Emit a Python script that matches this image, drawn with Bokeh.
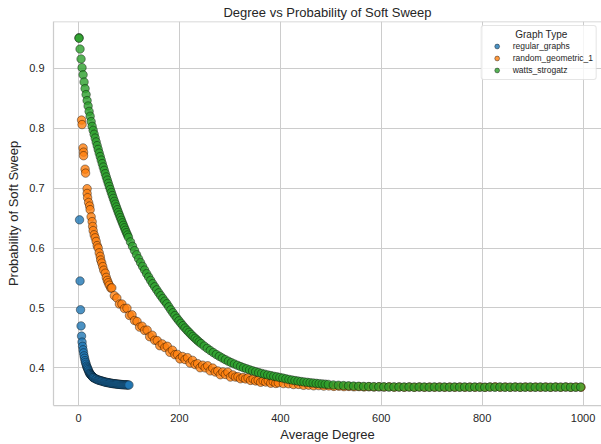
from bokeh.plotting import figure
from bokeh.models import Range1d, Legend, LegendItem, Span, FixedTicker
from bokeh.embed import file_html
from bokeh.resources import INLINE

# ---------------- data ----------------
graph_types = ["regular_graphs", "random_geometric_1", "watts_strogatz"]
colors = ["#1f77b4", "#ff7f0e", "#2ca02c"]

x_ticks = [0, 200, 400, 600, 800, 1000]
y_ticks = [0.4, 0.5, 0.6, 0.7, 0.8, 0.9]

regular_x = [2, 3, 4, 5, 6, 7, 8, 9, 10, 11, 12, 13, 14, 15, 16, 17, 18, 19, 20,
             21, 22, 23, 24, 25, 26, 27, 28, 29, 30,
             32, 34, 36, 38, 40, 42, 44, 46, 48, 50, 52, 54, 56, 58, 60,
             62, 64, 66, 68, 70, 72, 74, 76, 78, 80, 82, 84, 86, 88, 90,
             92, 94, 96, 98, 100]
regular_y = [0.647, 0.545, 0.497, 0.470, 0.453, 0.443, 0.436, 0.430, 0.425, 0.420,
             0.416, 0.412, 0.409, 0.406, 0.403, 0.401, 0.399, 0.397, 0.395,
             0.393, 0.391, 0.390, 0.389, 0.388, 0.387, 0.386, 0.385, 0.384, 0.3835,
             0.3825, 0.3815, 0.381, 0.380, 0.3795, 0.379, 0.3785, 0.378, 0.3775, 0.377,
             0.3765, 0.376, 0.3757, 0.3754, 0.375, 0.3747, 0.3744, 0.3741, 0.3738, 0.3736,
             0.3734, 0.3732, 0.373, 0.3728, 0.3726, 0.3724, 0.3722, 0.3721, 0.372, 0.3719,
             0.3718, 0.3717, 0.3716, 0.3715, 0.3714]

geometric_x = [6, 7, 9, 10, 10, 13, 14, 17, 17, 18, 20, 22, 23, 25, 27, 28, 29, 31,
               33, 35, 37, 39, 41, 43, 44, 46, 48, 50, 53, 55, 57, 59, 61, 64,
               66, 71, 76, 81, 86, 91, 96, 101, 106, 111, 116, 121, 126, 131, 136,
               141, 146, 151, 156, 161, 166, 171, 176, 181, 186, 191, 196, 201, 206,
               211, 216, 221, 226, 231, 236, 241, 246, 251, 256, 261, 266, 271, 276,
               281, 286, 291, 296, 301, 306, 311, 316, 321, 326, 331, 336, 341, 346,
               351, 356, 361, 366, 371, 376, 381, 386, 391, 396,
               406, 416, 426, 436, 446, 456, 466, 476, 486, 496, 506, 516, 526, 536,
               546, 556, 566, 576, 586, 596, 606, 616, 626, 636, 646, 656, 666, 676,
               686, 696, 706, 716, 726, 736, 746, 756, 766, 776, 786, 796, 806, 816,
               826, 836, 846, 856, 866, 876, 886, 896, 906, 916, 926, 936, 946, 956,
               966, 976, 986, 996]
geometric_y = [0.8135, 0.806, 0.767, 0.760, 0.754, 0.7315, 0.725, 0.699, 0.691, 0.684,
               0.676, 0.670, 0.664, 0.652, 0.644, 0.636, 0.629, 0.622, 0.617, 0.611,
               0.604, 0.600, 0.592, 0.586, 0.580, 0.575, 0.569, 0.563, 0.558, 0.551,
               0.546, 0.542, 0.538, 0.533,
               0.5335, 0.5205, 0.5165, 0.5065, 0.5065, 0.499, 0.4995, 0.4875, 0.4885,
               0.479, 0.4775, 0.468, 0.4695, 0.4625, 0.463, 0.452, 0.4545, 0.446,
               0.4455, 0.437, 0.440, 0.434, 0.436, 0.426, 0.4295, 0.422, 0.4225, 0.415,
               0.419, 0.414, 0.417, 0.408, 0.4125, 0.4055, 0.407, 0.4002, 0.4045, 0.400,
               0.4035, 0.395, 0.3996, 0.3932, 0.3948, 0.3885, 0.3932, 0.389, 0.3928,
               0.3847, 0.3882, 0.3847, 0.3852, 0.3818, 0.3839, 0.3816, 0.3833, 0.3791,
               0.3814, 0.3782, 0.3791, 0.376, 0.3784, 0.3764, 0.3784, 0.3744, 0.3769,
               0.374, 0.3751,
               0.3738, 0.3735, 0.3722, 0.3724, 0.3709, 0.3712, 0.3701, 0.3704, 0.3696,
               0.3699, 0.3691, 0.3694, 0.3687, 0.369, 0.3684, 0.3687, 0.3682, 0.3685,
               0.368, 0.3684, 0.3679, 0.3683, 0.3678, 0.3682, 0.3677, 0.3681, 0.3677,
               0.3681, 0.3676, 0.368, 0.3677, 0.3681, 0.3676, 0.368, 0.3677, 0.3681,
               0.3676, 0.368, 0.3677, 0.3681, 0.3676, 0.368, 0.3683, 0.3677, 0.3681,
               0.3676, 0.368, 0.3677, 0.3681, 0.3676, 0.368, 0.3677, 0.3681, 0.3676,
               0.368, 0.3677, 0.3681, 0.3676, 0.368, 0.3677]

watts_x = [1, 1, 3, 5, 7, 9, 11, 13, 15, 17, 19, 21, 23, 25, 27,
           29, 31, 33, 35, 37, 39, 41, 43, 45, 47, 49, 51, 53, 55, 57, 59, 61, 63,
           65, 67, 69, 71, 73, 75, 77, 79, 81, 83, 85, 87, 89, 91, 93, 95, 97, 99,
           103, 107, 111, 115, 119, 123, 127, 131, 135, 139, 143, 147, 151, 155,
           159, 163, 167, 171, 175,
           179, 183, 187, 191, 195, 199, 203, 207, 211, 215, 219, 223, 227, 231,
           235, 239, 243,
           249, 255, 261, 267, 273, 279, 285, 291, 297, 303, 309, 315, 321, 327,
           333, 339, 345, 351, 357, 363, 369, 375, 381, 387, 393, 399, 405, 411,
           417, 423, 429, 435, 441, 447, 453, 459, 465, 471, 477, 483, 489, 495,
           505, 515, 525, 535, 545, 555, 565, 575, 585, 595, 605, 615, 625, 635,
           645, 655, 665, 675, 685, 695, 705, 715, 725, 735, 745, 755, 765, 775,
           785, 795, 805, 815, 825, 835, 845, 855, 865, 875, 885, 895, 905, 915,
           925, 935, 945, 955, 965, 975, 985, 995]
watts_y = [0.951, 0.950, 0.932, 0.9155, 0.901, 0.889, 0.877, 0.866, 0.856, 0.846,
           0.837, 0.828, 0.820, 0.811, 0.803,
           0.7964, 0.7898, 0.7834, 0.777, 0.7708, 0.7646, 0.7585, 0.7526, 0.7467,
           0.7409, 0.7352, 0.7296, 0.7241, 0.7186, 0.7133, 0.708, 0.7028, 0.6977,
           0.6926, 0.6876, 0.6828, 0.6779, 0.6732, 0.6685, 0.6639, 0.6594, 0.655,
           0.6506, 0.6463, 0.642, 0.6378, 0.6337, 0.6296, 0.6256, 0.6217, 0.6178,
           0.6102, 0.6028, 0.5957, 0.5888, 0.5821, 0.5756, 0.5693, 0.5632, 0.5572,
           0.5515, 0.5459, 0.5405, 0.5353, 0.5302, 0.5252, 0.5205, 0.5158, 0.5113,
           0.507,
           0.5018, 0.4968, 0.492, 0.4873, 0.4828, 0.4785, 0.4744, 0.4704, 0.4665,
           0.4628, 0.4593, 0.4558, 0.4525, 0.4493, 0.4463, 0.4433, 0.4405,
           0.4364, 0.4326, 0.429, 0.4256, 0.4223, 0.4193, 0.4164, 0.4137, 0.4111,
           0.4087, 0.4064, 0.4043, 0.4022, 0.4003, 0.3985, 0.3967, 0.3951, 0.3936,
           0.3921, 0.3908, 0.3895, 0.3882, 0.3871, 0.386, 0.385, 0.384, 0.3829,
           0.3817, 0.3807, 0.3797, 0.3788, 0.378, 0.3772, 0.3765, 0.3759, 0.3753,
           0.3747, 0.3742, 0.3737, 0.3732, 0.3728, 0.3724,
           0.3715, 0.371, 0.3705, 0.370, 0.3696, 0.3693, 0.369, 0.3688, 0.3686,
           0.3684, 0.3683, 0.3681, 0.3682, 0.368, 0.3679, 0.3681, 0.3678, 0.368,
           0.3679, 0.3677, 0.368, 0.3678, 0.3679, 0.3677, 0.3679, 0.3678, 0.368,
           0.3677, 0.3679, 0.3678, 0.3676, 0.3679, 0.3678, 0.368, 0.3677, 0.3678,
           0.3679, 0.3677, 0.3678, 0.368, 0.3677, 0.3679, 0.3678, 0.3677, 0.3679,
           0.3678, 0.368, 0.3677, 0.3678, 0.3679]

series = [(regular_x, regular_y), (geometric_x, geometric_y), (watts_x, watts_y)]

# ---------------- figure ----------------
FONT = "Liberation Sans"
TXT = "#262626"
GRID = "#cccccc"

X_START, X_END = -49.6, 1036.5
Y_START, Y_END = 0.3372, 0.978

p = figure(width=601, height=444, output_backend="svg", toolbar_location=None,
           x_range=Range1d(X_START, X_END), y_range=Range1d(Y_START, Y_END),
           min_border_left=53, min_border_right=0, min_border_bottom=36,
           min_border_top=0)
p.background_fill_color = "white"
p.border_fill_color = "white"
p.outline_line_color = None

p.title.text = "Degree vs Probability of Soft Sweep"
p.title.align = "center"
p.title.text_font = FONT
p.title.text_font_size = "13px"
p.title.text_font_style = "normal"
p.title.text_color = TXT
p.title.standoff = 4

for ax, ticks in ((p.xaxis[0], x_ticks), (p.yaxis[0], y_ticks)):
    ax.ticker = FixedTicker(ticks=ticks)
    ax.axis_line_color = GRID
    ax.axis_line_width = 1.25
    ax.major_tick_line_color = None
    ax.minor_tick_line_color = None
    ax.major_tick_out = 0
    ax.major_tick_in = 0
    ax.major_label_text_font = FONT
    ax.major_label_text_font_size = "11px"
    ax.major_label_text_color = TXT
    ax.axis_label_text_font = FONT
    ax.axis_label_text_font_size = "13px"
    ax.axis_label_text_font_style = "normal"
    ax.axis_label_text_color = TXT

p.xaxis.axis_label = "Average Degree"
p.yaxis.axis_label = "Probability of Soft Sweep"
p.xaxis.major_label_standoff = 8
p.xaxis.axis_label_standoff = 2
p.yaxis.major_label_standoff = 9
p.yaxis.axis_label_standoff = 5

p.grid.grid_line_color = GRID
p.grid.grid_line_width = 1
p.xgrid.ticker = FixedTicker(ticks=x_ticks)
p.ygrid.ticker = FixedTicker(ticks=y_ticks)

# top spine
p.add_layout(Span(location=Y_END, dimension="width", line_color=GRID, line_width=1.25))

items = []
for name, col, (xs, ys) in zip(graph_types, colors, series):
    r = p.scatter(xs, ys, size=8.5, fill_color=col, line_color="black",
                  line_width=0.5, alpha=0.8)
    items.append(LegendItem(label=name, renderers=[r]))

legend = Legend(items=items, location="top_right")
legend.title = "\u00a0" * 11 + "Graph Type"
legend.title_text_font = FONT
legend.title_text_font_size = "10px"
legend.title_text_font_style = "normal"
legend.title_text_color = TXT
legend.title_standoff = 0
legend.label_text_font = FONT
legend.label_text_font_size = "8.5px"
legend.label_text_color = TXT
legend.label_height = 12
legend.label_standoff = 4
legend.glyph_width = 24
legend.glyph_height = 12
legend.spacing = 0
legend.padding = 3
legend.margin = 4
legend.border_line_color = GRID
legend.border_line_width = 1
legend.border_radius = 3
legend.background_fill_color = "white"
legend.background_fill_alpha = 0.8
p.add_layout(legend)

open("out.html", "w").write(file_html(p, INLINE))
